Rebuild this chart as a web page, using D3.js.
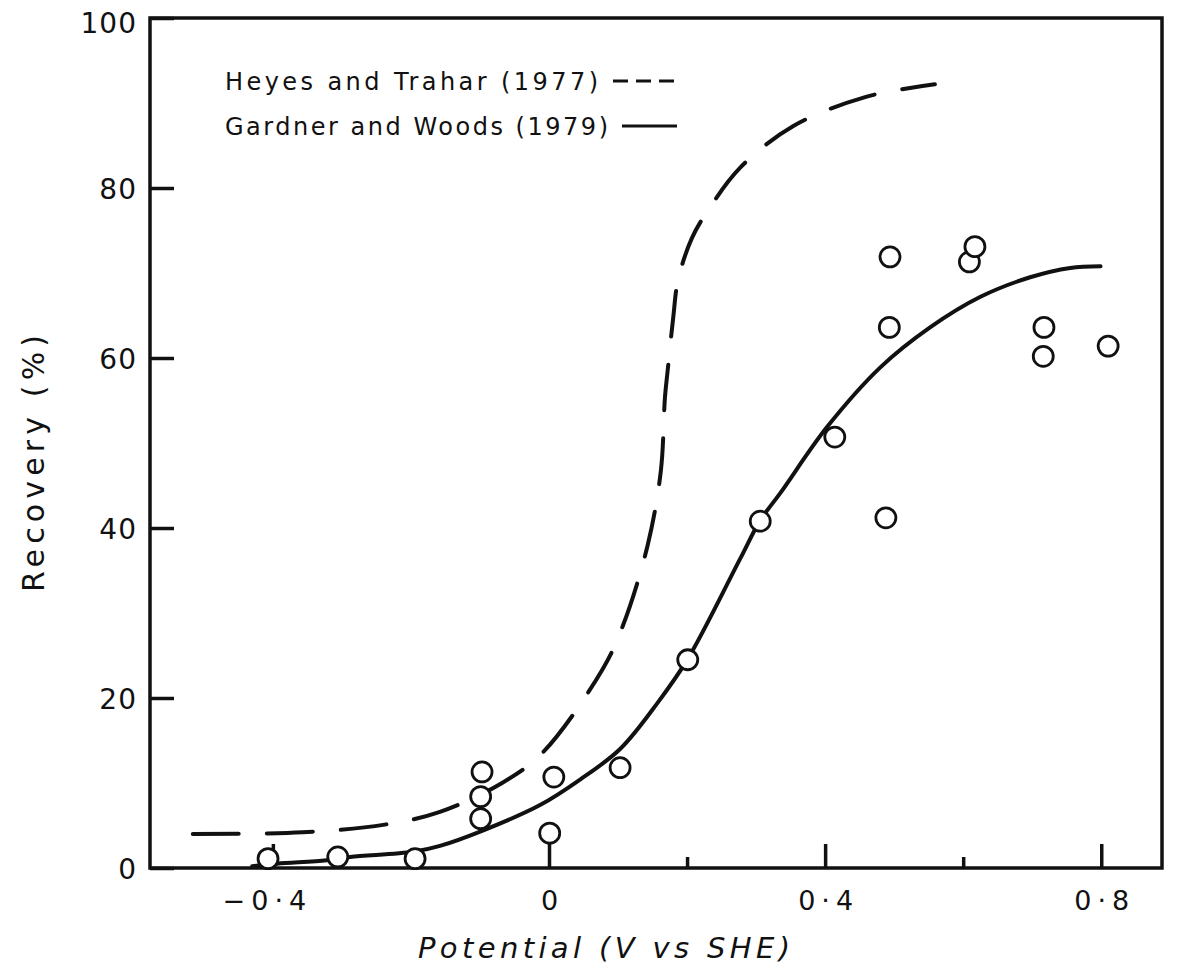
<!DOCTYPE html>
<html>
<head>
<meta charset="utf-8">
<script src="https://cdn.jsdelivr.net/npm/d3@7"></script>
<style>
  html, body { margin: 0; padding: 0; background: #fff; }
  svg { display: block; }
  text { font-family: "DejaVu Sans", "Noto Sans", sans-serif; fill: #111; }
</style>
</head>
<body>
<svg id="chart" width="1182" height="967"></svg>
<script>
// Axis ticks
const xTicks = [-0.4, 0, 0.4, 0.8];
const xMinorTicks = [-0.2, 0.2, 0.6];
const yTicks = [0, 20, 40, 60, 80, 100];

// Measured flotation recoveries (potential V vs SHE, recovery %)
const obsPotential = [-0.407, -0.306, -0.194, -0.097, -0.099, -0.099, 0.001, 0.007, 0.103, 0.201,
                      0.306, 0.414, 0.488, 0.493, 0.494, 0.609, 0.617, 0.717, 0.716, 0.810];
const obsRecovery  = [1.1, 1.3, 1.1, 11.3, 8.4, 5.8, 4.1, 10.7, 11.8, 24.5,
                      40.8, 50.7, 41.2, 63.6, 71.9, 71.3, 73.1, 63.6, 60.2, 61.4];

// Heyes and Trahar (1977) curve
const heyesPotential = [-0.516, -0.357, -0.238, -0.158, -0.068, -0.010, 0.077, 0.107, 0.143, 0.162,
                        0.168, 0.172, 0.180, 0.187, 0.207, 0.229, 0.277, 0.354, 0.458, 0.559];
const heyesRecovery  = [4.0, 4.2, 5.1, 6.6, 10.0, 13.5, 23.3, 28.5, 38.0, 46.7,
                        55.4, 58.6, 64.8, 69.2, 74.1, 77.2, 82.4, 87.3, 90.7, 92.2];

// Gardner and Woods (1979) curve
const gardnerPotential = [-0.430, -0.394, -0.322, -0.288, -0.197, -0.158, -0.096, -0.013, 0.045, 0.103,
                          0.157, 0.201, 0.277, 0.306, 0.335, 0.403, 0.480, 0.552, 0.625, 0.697, 0.755, 0.799];
const gardnerRecovery  = [0.2, 0.5, 0.9, 1.3, 1.9, 2.6, 4.4, 7.4, 10.4, 14.0,
                          19.4, 24.6, 36.4, 40.9, 44.1, 51.9, 58.9, 63.6, 67.2, 69.5, 70.6, 70.8];

const legendLabels = ["Heyes and Trahar (1977)", "Gardner and Woods (1979)"];

const svg = d3.select("#chart");
const x = d3.scaleLinear().domain([-0.578, 0.888]).range([150, 1162]);
const y = d3.scaleLinear().domain([0, 100]).range([868, 18]);

const fmtX = d => d === 0 ? "0" : (d < 0 ? "\u2212" : "") + Math.abs(d).toFixed(1).replace(".", "\u00b7");

const ink = "#111";

// Frame
svg.append("rect")
  .attr("x", x.range()[0]).attr("y", y.range()[1])
  .attr("width", x.range()[1] - x.range()[0])
  .attr("height", y.range()[0] - y.range()[1])
  .attr("fill", "none").attr("stroke", ink).attr("stroke-width", 3.5);

// Y axis
const gy = svg.append("g").attr("transform", `translate(${x.range()[0]},0)`)
  .call(d3.axisLeft(y).tickValues(yTicks).tickSize(-24).tickPadding(13).tickFormat(d3.format("d")));
gy.select(".domain").remove();
gy.selectAll(".tick line").attr("stroke", ink).attr("stroke-width", 3.5);
gy.selectAll(".tick text")
  .attr("font-size", 28).attr("letter-spacing", 1)
  .attr("dy", d => d === 100 ? "0.5em" : "0.36em")
  .style("font-family", "'DejaVu Sans', sans-serif").attr("fill", ink);

// X axis, major
const gx = svg.append("g").attr("transform", `translate(0,${y.range()[0]})`)
  .call(d3.axisBottom(x).tickValues(xTicks).tickSize(-24).tickPadding(23).tickFormat(fmtX));
gx.select(".domain").remove();
gx.selectAll(".tick line").attr("stroke", ink).attr("stroke-width", 3.5);
gx.selectAll(".tick text")
  .attr("font-size", 27).attr("letter-spacing", 6).attr("dx", d => d < 0 ? -6 : 3)
  .style("font-family", "'DejaVu Sans', sans-serif").attr("fill", ink);

// X axis, minor
const gxm = svg.append("g").attr("transform", `translate(0,${y.range()[0]})`)
  .call(d3.axisBottom(x).tickValues(xMinorTicks).tickSize(-11).tickFormat(""));
gxm.select(".domain").remove();
gxm.selectAll(".tick line").attr("stroke", ink).attr("stroke-width", 3.5);

// Curves
const line = d3.line().x(d => x(d[0])).y(d => y(d[1])).curve(d3.curveCatmullRom.alpha(0.5));
const heyes = heyesPotential.map((v, i) => [v, heyesRecovery[i]]);
const gardner = gardnerPotential.map((v, i) => [v, gardnerRecovery[i]]);

svg.append("path").datum(heyes).attr("d", line)
  .attr("fill", "none").attr("stroke", ink).attr("stroke-width", 4)
  .attr("stroke-linecap", "round").attr("stroke-dasharray", "46,28");

svg.append("path").datum(gardner).attr("d", line)
  .attr("fill", "none").attr("stroke", ink).attr("stroke-width", 4)
  .attr("stroke-linecap", "round");

// Observations
svg.append("g").selectAll("circle")
  .data(obsPotential.map((v, i) => [v, obsRecovery[i]]))
  .join("circle")
  .attr("cx", d => x(d[0])).attr("cy", d => y(d[1])).attr("r", 10)
  .attr("fill", "#fff").attr("stroke", ink).attr("stroke-width", 2.8);

// Legend
const legend = svg.append("g");
legend.append("text").attr("x", 225).attr("y", 90).attr("font-size", 24)
  .attr("textLength", 373).attr("lengthAdjust", "spacing").text(legendLabels[0]);
legend.append("text").attr("x", 225).attr("y", 135).attr("font-size", 24)
  .attr("textLength", 383).attr("lengthAdjust", "spacing").text(legendLabels[1]);
legend.append("line").attr("x1", 613).attr("x2", 675).attr("y1", 81).attr("y2", 81)
  .attr("stroke", ink).attr("stroke-width", 3).attr("stroke-dasharray", "15,8");
legend.append("line").attr("x1", 622).attr("x2", 677).attr("y1", 126).attr("y2", 126)
  .attr("stroke", ink).attr("stroke-width", 3);

// Axis titles
svg.append("text").attr("x", 418).attr("y", 958).attr("font-size", 29)
  .attr("font-style", "italic").attr("textLength", 372).attr("lengthAdjust", "spacing")
  .text("Potential  (V vs SHE)");
svg.append("text").attr("transform", "translate(44,592) rotate(-90)")
  .attr("font-size", 30).attr("textLength", 257).attr("lengthAdjust", "spacing")
  .text("Recovery  (%)");
</script>
</body>
</html>
